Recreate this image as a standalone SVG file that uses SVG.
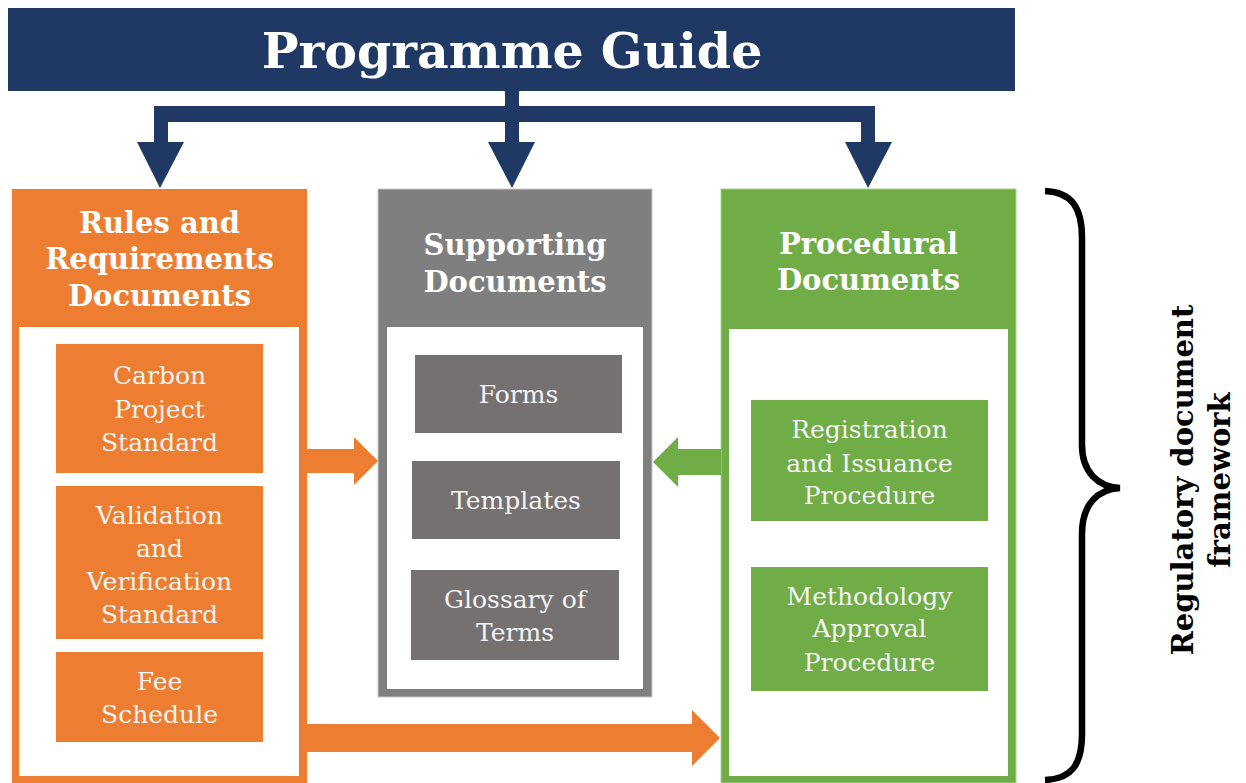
<svg xmlns="http://www.w3.org/2000/svg" width="1246" height="783" viewBox="0 0 1246 783">
<style>
.hdr{font-family:"DejaVu Serif","Liberation Serif",serif;font-weight:bold;font-size:29px;fill:#FFFFFF;text-anchor:middle}
.sub{font-family:"DejaVu Serif","Liberation Serif",serif;font-size:25px;fill:#F4F4F4;text-anchor:middle}
.title{font-family:"DejaVu Serif","Liberation Serif",serif;font-weight:bold;font-size:49px;fill:#FFFFFF;text-anchor:middle}
.navy{fill:#203864}
.org{fill:#ED7D31}
.gry{fill:#7F7F7F}
.gsub{fill:#767171}
.grn{fill:#70AD47}
.wht{fill:#FFFFFF}
</style>
<rect x="0" y="0" width="1246" height="783" fill="#FFFFFF"/>

<g id="programme-guide">
<rect class="navy" x="8" y="8" width="1007" height="83"/>
<text class="title" x="512" y="68">Programme Guide</text>
</g>

<g id="rules-requirements">
<rect class="org" x="12" y="189" width="295" height="594"/>
<rect class="wht" x="19" y="327" width="280" height="449"/>
<text class="hdr" x="159.5" y="233">Rules and</text>
<text class="hdr" x="159.5" y="269">Requirements</text>
<text class="hdr" x="159.5" y="306">Documents</text>
</g>
<g id="carbon-project-standard">
<rect class="org" x="56" y="344" width="207" height="129"/>
<text class="sub" x="159.5" y="384">Carbon</text>
<text class="sub" x="159.5" y="418">Project</text>
<text class="sub" x="159.5" y="451">Standard</text>
</g>
<g id="validation-verification-standard">
<rect class="org" x="56" y="486" width="207" height="153"/>
<text class="sub" x="159.5" y="524">Validation</text>
<text class="sub" x="159.5" y="557">and</text>
<text class="sub" x="159.5" y="590">Verification</text>
<text class="sub" x="159.5" y="623">Standard</text>
</g>
<g id="fee-schedule">
<rect class="org" x="56" y="652" width="207" height="90"/>
<text class="sub" x="159.5" y="690">Fee</text>
<text class="sub" x="159.5" y="723">Schedule</text>
</g>

<g id="supporting-documents">
<rect class="gry" x="378" y="189" width="274" height="508" stroke="#C8C8C8" stroke-width="1"/>
<rect class="wht" x="387" y="327" width="256" height="362"/>
<text class="hdr" x="515" y="255">Supporting</text>
<text class="hdr" x="515" y="292">Documents</text>
</g>
<g id="forms">
<rect class="gsub" x="415" y="355" width="207" height="78"/>
<text class="sub" x="518.5" y="403">Forms</text>
</g>
<g id="templates">
<rect class="gsub" x="412" y="461" width="208" height="78"/>
<text class="sub" x="516" y="509">Templates</text>
</g>
<g id="glossary-of-terms">
<rect class="gsub" x="411" y="570" width="208" height="90"/>
<text class="sub" x="515" y="608">Glossary of</text>
<text class="sub" x="515" y="641">Terms</text>
</g>

<g id="procedural-documents">
<rect class="grn" x="721" y="189" width="295" height="594" stroke="#A9D08E" stroke-width="1"/>
<rect class="wht" x="729" y="329" width="279" height="447"/>
<text class="hdr" x="868.5" y="254">Procedural</text>
<text class="hdr" x="868.5" y="290">Documents</text>
</g>
<g id="registration-issuance-procedure">
<rect class="grn" x="751" y="400" width="237" height="121"/>
<text class="sub" x="869.5" y="438">Registration</text>
<text class="sub" x="869.5" y="472">and Issuance</text>
<text class="sub" x="869.5" y="504">Procedure</text>
</g>
<g id="methodology-approval-procedure">
<rect class="grn" x="751" y="567" width="237" height="124"/>
<text class="sub" x="869.5" y="605">Methodology</text>
<text class="sub" x="869.5" y="637">Approval</text>
<text class="sub" x="869.5" y="671">Procedure</text>
</g>

<g id="connectors">
<rect class="navy" x="505" y="91" width="14" height="52"/>
<rect class="navy" x="154" y="106" width="721" height="16"/>
<rect class="navy" x="154" y="106" width="14" height="37"/>
<rect class="navy" x="861" y="106" width="14" height="37"/>
<polygon class="navy" points="137,142 184,142 160,188"/>
<polygon class="navy" points="488,142 535,142 512,188"/>
<polygon class="navy" points="845,142 892,142 868,188"/>
<polygon class="org" points="307,449 354,449 354,437 378,461 354,485 354,473 307,473"/>
<polygon class="grn" points="721,449 678,449 678,437 653,462 678,487 678,475 721,475"/>
<polygon class="org" points="307,724 692,724 692,710 720,738 692,766 692,752 307,752"/>
</g>

<g id="regulatory-framework">
<path d="M1045,191 C1072,192 1082,208 1082,238 L1082,445 C1082,472 1098,487 1120,488 C1098,489 1082,504 1082,534 L1082,734 C1082,764 1072,779 1045,780" fill="none" stroke="#000000" stroke-width="6.5"/>
<text class="hdr" style="fill:#000000" transform="translate(1193,480) rotate(-90)" x="0" y="0">Regulatory document</text>
<text class="hdr" style="fill:#000000" transform="translate(1230,480) rotate(-90)" x="0" y="0">framework</text>
</g>
</svg>
